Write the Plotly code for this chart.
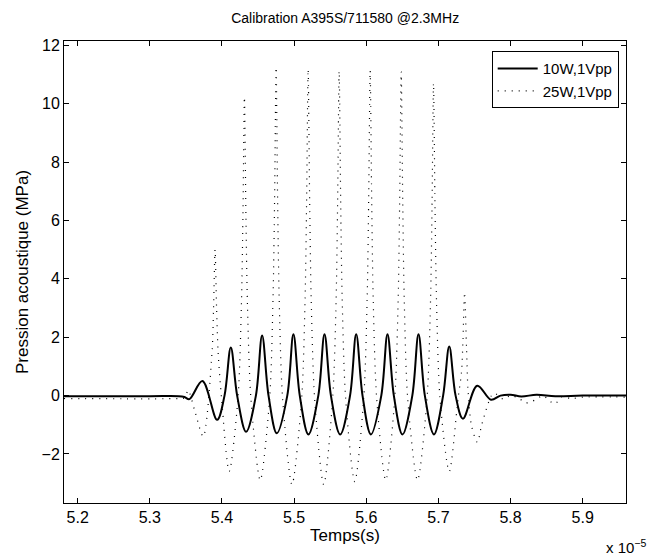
import plotly.graph_objects as go

# time in units of 1e-5 s
t_10w = [5.1810, 5.3000, 5.3400, 5.3480, 5.3548, 5.3728, 5.3932, 5.4035, 5.4122, 5.4210,
         5.4334, 5.4470, 5.4556, 5.4645, 5.4760, 5.4905, 5.4990, 5.5078, 5.5198, 5.5335,
         5.5421, 5.5510, 5.5638, 5.5775, 5.5860, 5.5948, 5.6064, 5.6208, 5.6294, 5.6382,
         5.6502, 5.6638, 5.6724, 5.6812, 5.6938, 5.7065, 5.7150, 5.7238, 5.7340, 5.7538,
         5.7728, 5.7860, 5.8000, 5.8150, 5.8360, 5.8620, 5.9000, 5.9600]
p_10w = [-0.02, -0.02, -0.02, -0.05, -0.12, 0.50, -0.83, 0.00, 1.65, 0.00,
         -1.24, 0.00, 2.06, 0.00, -1.29, 0.00, 2.10, 0.00, -1.33, 0.00,
         2.10, 0.00, -1.33, 0.00, 2.10, 0.00, -1.33, 0.00, 2.10, 0.00,
         -1.33, 0.00, 2.10, 0.00, -1.33, 0.00, 1.68, 0.00, -0.79, 0.34,
         -0.14, 0.00, 0.03, -0.03, 0.03, -0.02, 0.00, 0.00]

t_25w = [5.1810, 5.3400, 5.3480, 5.3532, 5.3620, 5.3740,
         5.3862, 5.3883, 5.3904, 5.3925, 5.3946, 5.3994, 5.4100,
         5.4221, 5.4269, 5.4290, 5.4311, 5.4332, 5.4353, 5.4401, 5.4530,
         5.4660, 5.4708, 5.4729, 5.4750, 5.4771, 5.4792, 5.4840, 5.4970,
         5.5104, 5.5152, 5.5173, 5.5194, 5.5215, 5.5236, 5.5284, 5.5410,
         5.5534, 5.5582, 5.5603, 5.5624, 5.5645, 5.5666, 5.5714, 5.5840,
         5.5964, 5.6012, 5.6033, 5.6054, 5.6075, 5.6096, 5.6144, 5.6270,
         5.6394, 5.6442, 5.6463, 5.6484, 5.6505, 5.6526, 5.6574, 5.6710,
         5.6842, 5.6890, 5.6911, 5.6932, 5.6953, 5.6974, 5.7022, 5.7150,
         5.7272, 5.7320, 5.7340, 5.7362, 5.7390, 5.7410, 5.7460, 5.7540,
         5.7600, 5.7735, 5.7780, 5.7900, 5.8000, 5.8120, 5.8200, 5.8280,
         5.8360, 5.8450, 5.8550, 5.8620, 5.8700, 5.8850, 5.9000, 5.9600]
p_25w = [-0.10, -0.10, -0.08, 0.18, -0.50, -1.40,
         1.50, 3.00, 5.00, 3.00, 1.50, -0.10, -2.60,
         -0.10, 3.10, 6.10, 10.23, 6.10, 3.10, -0.10, -2.90,
         -0.10, 3.40, 6.70, 11.25, 6.70, 3.40, -0.10, -3.05,
         -0.10, 3.35, 6.70, 11.18, 6.70, 3.35, -0.10, -3.05,
         -0.10, 3.30, 6.70, 11.12, 6.70, 3.30, -0.10, -2.95,
         -0.10, 3.30, 6.70, 11.13, 6.70, 3.30, -0.10, -2.90,
         -0.10, 3.30, 6.70, 11.10, 6.70, 3.30, -0.10, -2.90,
         -0.10, 3.20, 6.40, 10.70, 6.40, 3.20, -0.10, -2.60,
         -0.10, 0.80, 1.90, 3.53, 1.60, 0.20, -1.05, -1.60,
         -1.00, 0.00, 0.08, -0.12, 0.00, -0.10, -0.25, -0.22,
         -0.12, 0.00, -0.20, -0.28, -0.05, -0.10, -0.05, -0.05]

x_ticks = [5.2, 5.3, 5.4, 5.5, 5.6, 5.7, 5.8, 5.9]
y_ticks = [-2, 0, 2, 4, 6, 8, 10, 12]

FONT = "Liberation Sans, Arial, Helvetica, sans-serif"

fig = go.Figure()
fig.add_trace(go.Scatter(x=t_10w, y=p_10w, mode="lines", name="10W,1Vpp",
                         line=dict(color="black", width=2, shape="spline", smoothing=1.0)))
fig.add_trace(go.Scatter(x=t_25w, y=p_25w, mode="lines", name="25W,1Vpp",
                         line=dict(color="black", width=1.2, dash="1px,6px",
                                   shape="spline", smoothing=0.8)))

axis_common = dict(showline=True, linecolor="black", linewidth=1, mirror="ticks",
                   ticks="inside", ticklen=5, tickcolor="black", showgrid=False,
                   zeroline=False, tickfont=dict(family=FONT, size=16, color="black"))

fig.update_layout(
    width=650, height=555,
    margin=dict(l=64, r=24, t=41, b=52),
    paper_bgcolor="white", plot_bgcolor="white",
    font=dict(family=FONT, color="black"),
    title=dict(text="Calibration A395S/711580 @2.3MHz", x=0.531, xanchor="center",
               y=0.968, yanchor="middle", font=dict(family=FONT, size=14, color="black")),
    xaxis=dict(range=[5.181, 5.960], tickvals=x_ticks,
               ticktext=[f"{v:.1f}" for v in x_ticks],
               title=dict(text="Temps(s)", font=dict(family=FONT, size=17), standoff=2),
               **axis_common),
    yaxis=dict(range=[-3.68, 12.15], tickvals=y_ticks,
               title=dict(text="Pression acoustique (MPa)", font=dict(family=FONT, size=17),
                          standoff=8),
               **axis_common),
    legend=dict(x=0.987, y=0.978, xanchor="right", yanchor="top",
                bgcolor="white", bordercolor="black", borderwidth=1,
                font=dict(family=FONT, size=15, color="black"),
                tracegroupgap=0, itemwidth=40),
    showlegend=True,
)

fig.add_annotation(text="x 10<sup>−5</sup>", xref="paper", yref="paper", x=1.0, y=0,
                   xanchor="center", yanchor="middle", yshift=-43, showarrow=False,
                   font=dict(family=FONT, size=15, color="black"))

fig.write_html("out.html", config={"displayModeBar": False},
               post_script="document.body.style.margin='0';")
